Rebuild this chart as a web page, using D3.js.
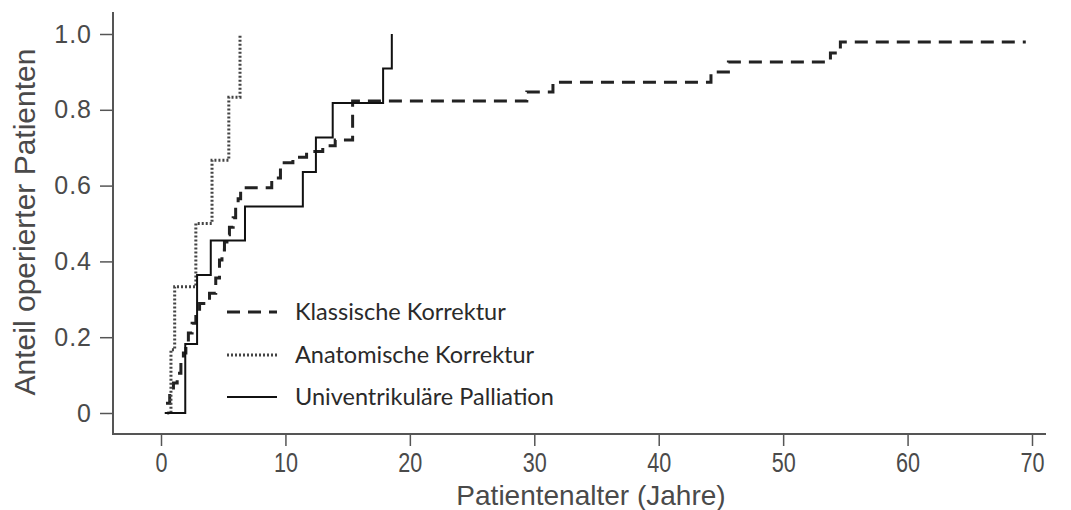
<!DOCTYPE html>
<html lang="de">
<head>
<meta charset="UTF-8">
<title>Anteil operierter Patienten</title>
<script src="https://d3js.org/d3.v7.min.js"></script>
<style>
  body { margin: 0; background: #fff; }
  .tick text { font-family: "Liberation Sans", Arial, sans-serif; fill: #4a4a4a; }
</style>
</head>
<body>
<div id="chart"></div>
<script>
// Kaplan-Meier-artige Stufen: Alter (Jahre) und Anteil nach dem Schritt
var klassischeAlter  = [0.4, 0.7, 1.0, 1.3, 1.6, 1.8, 2.0, 2.2, 2.5, 2.8, 3.1, 3.9, 4.4, 4.7, 4.9, 5.1, 5.3, 5.5, 5.8, 6.0, 6.2, 6.4, 8.9, 9.6, 10.6, 11.7, 13.0, 14.0, 15.4, 29.4, 31.5, 44.2, 45.6, 53.8, 54.6, 69.5];
var klassischeAnteil = [0.026, 0.053, 0.079, 0.105, 0.132, 0.158, 0.184, 0.211, 0.237, 0.263, 0.289, 0.316, 0.356, 0.404, 0.43, 0.451, 0.47, 0.49, 0.515, 0.543, 0.565, 0.594, 0.62, 0.66, 0.675, 0.69, 0.705, 0.72, 0.823, 0.847, 0.873, 0.9, 0.926, 0.95, 0.979, 0.979];

var anatomischeAlter  = [0.5, 0.8, 1.1, 2.8, 4.1, 5.45, 6.35];
var anatomischeAnteil = [0, 0.167, 0.333, 0.5, 0.667, 0.833, 1.0];

var univentAlter  = [0.3, 1.95, 2.9, 4.0, 6.75, 11.4, 12.45, 13.8, 17.85, 18.55];
var univentAnteil = [0, 0.182, 0.364, 0.455, 0.545, 0.636, 0.727, 0.818, 0.909, 1.0];

var xTicks = [0, 10, 20, 30, 40, 50, 60, 70];
var yTicks = [0, 0.2, 0.4, 0.6, 0.8, 1.0];
var legendNamen = ["Klassische Korrektur", "Anatomische Korrektur", "Univentrikuläre Palliation"];

var width = 1071, height = 510;

var svg = d3.select("#chart").append("svg")
    .attr("width", width)
    .attr("height", height);

var x = d3.scaleLinear().domain([0, 70]).range([161, 1032]);
var y = d3.scaleLinear().domain([0, 1]).range([413, 34]);

var axisColor = "#555";

// x-Achse
var gx = svg.append("g")
    .attr("transform", "translate(0,434)")
    .call(d3.axisBottom(x).tickValues(xTicks).tickSize(12).tickPadding(7).tickFormat(d3.format("d")));
gx.select(".domain").remove();
gx.selectAll(".tick line").attr("stroke", axisColor).attr("stroke-width", 1.5);
gx.selectAll(".tick text")
    .style("font-size", "27px")
    .attr("transform", "scale(0.8,1)");

// y-Achse
var gy = svg.append("g")
    .attr("transform", "translate(113,0)")
    .call(d3.axisLeft(y).tickValues(yTicks).tickSize(13).tickPadding(8)
        .tickFormat(function (d) { return d === 0 ? "0" : d3.format(".1f")(d); }));
gy.select(".domain").remove();
gy.selectAll(".tick line").attr("stroke", axisColor).attr("stroke-width", 1.5);
gy.selectAll(".tick text").style("font-size", "25px").style("letter-spacing", "1px");

// Achsenlinien
svg.append("line")
    .attr("x1", 113).attr("x2", 113).attr("y1", 12).attr("y2", 434)
    .attr("stroke", axisColor).attr("stroke-width", 2);
svg.append("line")
    .attr("x1", 112).attr("x2", 1046).attr("y1", 434).attr("y2", 434)
    .attr("stroke", axisColor).attr("stroke-width", 2);

// Achsentitel
svg.append("text")
    .attr("x", 591)
    .attr("y", 505)
    .attr("text-anchor", "middle")
    .style("font-family", "'Liberation Sans', Arial, sans-serif")
    .style("font-size", "28px")
    .style("fill", "#4a4a4a")
    .text("Patientenalter (Jahre)");

svg.append("text")
    .attr("transform", "translate(35,222) rotate(-90)")
    .attr("text-anchor", "middle")
    .style("font-family", "'Liberation Sans', Arial, sans-serif")
    .style("font-size", "30px")
    .style("fill", "#4a4a4a")
    .text("Anteil operierter Patienten");

var stile = [
    { stroke: "#222", width: 3, dash: "13,8" },
    { stroke: "#444", width: 3, dash: "2,2" },
    { stroke: "#111", width: 2, dash: null }
];

var reihen = [
    d3.zip(klassischeAlter, klassischeAnteil),
    d3.zip(anatomischeAlter, anatomischeAnteil),
    d3.zip(univentAlter, univentAnteil)
];

var line = d3.line()
    .x(function (d) { return x(d[0]); })
    .y(function (d) { return y(d[1]); })
    .curve(d3.curveStepAfter);

reihen.forEach(function (r, i) {
    svg.append("path")
        .datum(r)
        .attr("fill", "none")
        .attr("stroke", stile[i].stroke)
        .attr("stroke-width", stile[i].width)
        .attr("stroke-dasharray", stile[i].dash)
        .attr("d", line);
});

// Legende
var legendY = [312, 355, 397];
legendNamen.forEach(function (name, i) {
    svg.append("line")
        .attr("x1", 227).attr("x2", 277)
        .attr("y1", legendY[i]).attr("y2", legendY[i])
        .attr("stroke", stile[i].stroke)
        .attr("stroke-width", stile[i].width)
        .attr("stroke-dasharray", stile[i].dash);
    svg.append("text")
        .attr("x", 295)
        .attr("y", legendY[i] + 8)
        .style("font-family", "Lato, 'Open Sans', sans-serif")
        .style("font-size", "23.5px")
        .style("fill", "#2a2a2a")
        .text(name);
});
</script>
</body>
</html>
